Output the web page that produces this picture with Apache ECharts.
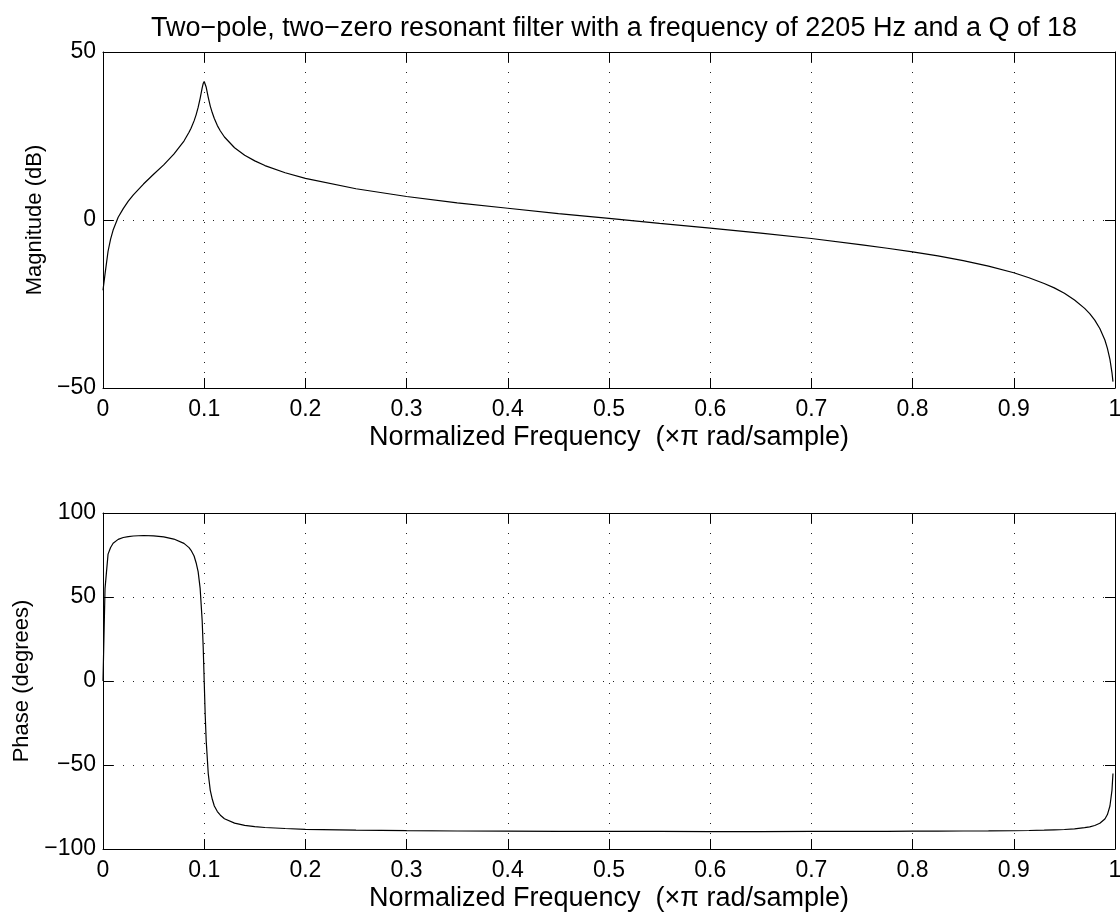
<!DOCTYPE html>
<html>
<head>
<meta charset="utf-8">
<script src="https://cdn.jsdelivr.net/npm/echarts@6.0.0/dist/echarts.min.js"></script>
<style>
html, body { margin: 0; padding: 0; background: #fff; }
#chart { width: 1120px; height: 912px; }
</style>
</head>
<body>
<div id="chart"></div>
<script>
// texts
const titleText = 'Two\u2212pole, two\u2212zero resonant filter with a frequency of 2205 Hz and a Q of 18';
const xName = 'Normalized Frequency  (\u00d7\u03c0 rad/sample)';
const magName = 'Magnitude (dB)';
const phaseName = 'Phase (degrees)';

// normalized frequency (x pi rad/sample)
const freq = [0, 0.002, 0.005, 0.0075, 0.01, 0.015, 0.02, 0.025, 0.03, 0.04, 0.05, 0.06, 0.07, 0.08,
    0.085, 0.087, 0.09, 0.092, 0.094, 0.096, 0.098, 0.099, 0.1, 0.101, 0.102, 0.104, 0.106, 0.108,
    0.11, 0.113, 0.116, 0.12, 0.13, 0.14, 0.15, 0.16, 0.18, 0.2, 0.25, 0.3, 0.35, 0.4, 0.45, 0.5, 0.55,
    0.6, 0.65, 0.7, 0.75, 0.775, 0.8, 0.825, 0.85, 0.875, 0.9, 0.915, 0.93, 0.94, 0.95, 0.96, 0.97,
    0.975, 0.98, 0.985, 0.99, 0.9925, 0.995, 0.997, 0.998];
// magnitude response, dB
const magDb = [-20.9, -16.1, -9.3, -5.7, -3.0, 0.8, 3.4, 5.6, 7.5, 10.7, 13.6, 16.4, 19.6, 23.5,
    26.1, 27.3, 29.5, 31.3, 33.5, 36.2, 39.3, 40.6, 41.2, 40.7, 39.5, 36.5, 33.9, 31.9,
    30.2, 28.1, 26.5, 24.7, 21.5, 19.3, 17.6, 16.2, 14.05, 12.4, 9.3, 7.0, 5.1, 3.5, 1.9, 0.5, -1.0,
    -2.4, -3.9, -5.5, -7.4, -8.4, -9.5, -10.7, -12.1, -13.75, -15.7, -17.2, -18.9, -20.2, -21.8, -23.8, -26.3,
    -27.85, -29.8, -32.3, -35.7, -38.2, -41.5, -45.4, -48.1];
// phase response, degrees
const phaseDeg = [0, 55.0, 75.5, 79.5, 82.0, 84.3, 85.4, 85.9, 86.3, 86.6, 86.4, 85.8, 84.5, 81.9,
    79.4, 77.8, 74.4, 70.4, 65.1, 55.1, 35.9, 20.4, 0.0, -20.2, -35.8, -55.1, -65.1, -70.4,
    -74.4, -77.7, -79.9, -82.0, -84.6, -85.9, -86.7, -87.2, -87.8, -88.3, -88.8, -89.1, -89.3, -89.4, -89.45, -89.5, -89.55,
    -89.6, -89.6, -89.55, -89.5, -89.45, -89.4, -89.35, -89.3, -89.25, -89.15, -89.0, -88.8, -88.6, -88.4, -88.0, -87.3,
    -86.8, -86.0, -84.7, -82.1, -79.5, -74.4, -65.1, -55.1];

// tick values
const freqTicks = [0, 0.1, 0.2, 0.3, 0.4, 0.5, 0.6, 0.7, 0.8, 0.9, 1];
const magTicks = [-50, 0, 50];
const phaseTicks = [-100, -50, 0, 50, 100];

const fontFamily = '"Liberation Sans", Arial, Helvetica, sans-serif';
const tickFont = 23;
const xNameFont = 27;
const yNameFont = 22;
const titleFont = 27;

const plotLeft = 103;
const plotWidth = 1012;
const plotHeight = 336;
const plotTops = [52, 513];

function fmtNum(v) {
    let s = String(Math.round(v * 10) / 10);
    return s.replace('-', '\u2212');
}

function dotted() {
    return {show: true, lineStyle: {color: '#222', width: 1, type: [1, 9]}};
}

function xAxisFor(grid, pos, withLabels) {
    return {
        type: 'value',
        gridIndex: grid,
        position: pos,
        min: freqTicks[0],
        max: freqTicks[freqTicks.length - 1],
        interval: freqTicks[1] - freqTicks[0],
        name: withLabels ? xName : '',
        nameLocation: 'middle',
        nameGap: 36,
        nameTextStyle: {fontSize: xNameFont, color: '#000', fontFamily: fontFamily},
        axisLine: {show: true, onZero: false, lineStyle: {color: '#000', width: 1}},
        axisTick: {show: true, inside: true, length: 10, lineStyle: {color: '#000'}},
        axisLabel: {show: withLabels, margin: 10, fontSize: tickFont, color: '#000',
            fontFamily: fontFamily, formatter: fmtNum, hideOverlap: false},
        splitLine: withLabels ? dotted() : {show: false}
    };
}

function yAxisFor(grid, pos, ticks, name, withLabels) {
    return {
        type: 'value',
        gridIndex: grid,
        position: pos,
        min: ticks[0],
        max: ticks[ticks.length - 1],
        interval: ticks[1] - ticks[0],
        name: withLabels ? name : '',
        nameLocation: 'middle',
        nameRotate: 90,
        nameGap: 57,
        nameTextStyle: {fontSize: yNameFont, color: '#000', fontFamily: fontFamily},
        axisLine: {show: true, onZero: false, lineStyle: {color: '#000', width: 1}},
        axisTick: {show: true, inside: true, length: 10, lineStyle: {color: '#000'}},
        axisLabel: {show: withLabels, margin: 7, fontSize: tickFont, color: '#000',
            fontFamily: fontFamily, formatter: fmtNum, hideOverlap: false},
        splitLine: withLabels ? dotted() : {show: false}
    };
}

function pairs(xs, ys) {
    return xs.map((x, i) => [x, ys[i]]);
}

let chart = echarts.init(document.getElementById('chart'), null, {renderer: 'canvas'});

let option = {
    animation: false,
    backgroundColor: '#fff',
    title: {
        text: titleText,
        left: plotLeft + plotWidth / 2,
        textAlign: 'center',
        top: 10,
        textStyle: {fontSize: titleFont, fontWeight: 'normal', color: '#000', fontFamily: fontFamily}
    },
    grid: plotTops.map(t => ({
        left: plotLeft, top: t, width: plotWidth, height: plotHeight,
        outerBoundsMode: 'none', containLabel: false
    })),
    xAxis: [
        xAxisFor(0, 'bottom', true),
        xAxisFor(1, 'bottom', true),
        xAxisFor(0, 'top', false),
        xAxisFor(1, 'top', false)
    ],
    yAxis: [
        yAxisFor(0, 'left', magTicks, magName, true),
        yAxisFor(1, 'left', phaseTicks, phaseName, true),
        yAxisFor(0, 'right', magTicks, magName, false),
        yAxisFor(1, 'right', phaseTicks, phaseName, false)
    ],
    series: [
        {
            type: 'line', xAxisIndex: 0, yAxisIndex: 0,
            data: pairs(freq, magDb),
            showSymbol: false, symbol: 'none',
            lineStyle: {color: '#000', width: 1.2}
        },
        {
            type: 'line', xAxisIndex: 1, yAxisIndex: 1,
            data: pairs(freq, phaseDeg),
            showSymbol: false, symbol: 'none',
            lineStyle: {color: '#000', width: 1.2}
        }
    ]
};

chart.setOption(option);
</script>
</body>
</html>
